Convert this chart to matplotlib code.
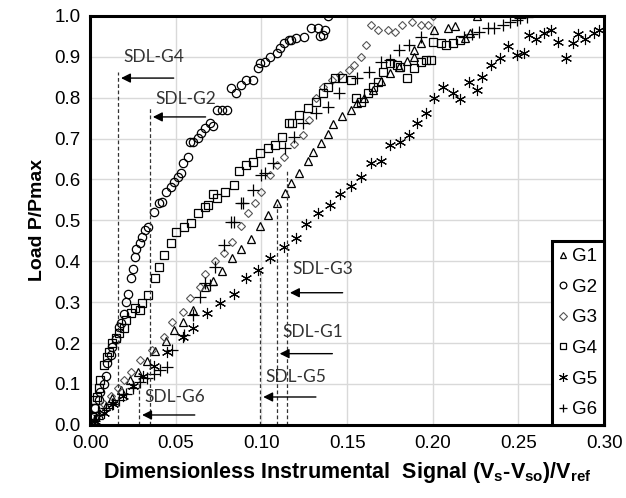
import matplotlib
matplotlib.use("Agg")
import matplotlib.pyplot as plt

plt.rcParams['font.family'] = ['Liberation Sans', 'DejaVu Sans']
plt.rcParams['mathtext.fontset'] = 'custom'
plt.rcParams['mathtext.rm'] = 'Liberation Sans:bold'
plt.rcParams['mathtext.it'] = 'Liberation Sans:bold'

# G1 - triangles
g1_x = [0.002, 0.005, 0.009, 0.013, 0.018, 0.023, 0.028, 0.033, 0.038, 0.044, 0.049, 0.054, 0.06,
        0.067, 0.072, 0.077, 0.083, 0.088, 0.094, 0.099, 0.104, 0.109, 0.114, 0.117, 0.122, 0.127,
        0.13, 0.135, 0.139, 0.142, 0.147, 0.152, 0.156, 0.16, 0.165, 0.17, 0.175, 0.18, 0.185,
        0.189, 0.189, 0.193, 0.201, 0.209, 0.213, 0.219, 0.222, 0.226]
g1_y = [0.01, 0.025, 0.045, 0.065, 0.085, 0.11, 0.13, 0.155, 0.18, 0.205, 0.232, 0.252, 0.281,
        0.337, 0.352, 0.377, 0.408, 0.43, 0.455, 0.487, 0.513, 0.543, 0.567, 0.592, 0.617, 0.645,
        0.666, 0.69, 0.711, 0.736, 0.756, 0.77, 0.787, 0.8, 0.82, 0.84, 0.86, 0.875, 0.89,
        0.9, 0.917, 0.934, 0.966, 0.971, 0.976, 0.946, 0.958, 1.0]

# G2 - circles
g2_x = [0.002, 0.003, 0.005, 0.006, 0.008, 0.009, 0.01, 0.012, 0.013, 0.015, 0.017, 0.018, 0.02,
        0.021, 0.022, 0.024, 0.025, 0.026, 0.027, 0.029, 0.03, 0.032, 0.034, 0.037, 0.04, 0.042,
        0.044, 0.047, 0.049, 0.051, 0.053, 0.054, 0.057, 0.058, 0.06, 0.063, 0.065, 0.067, 0.07,
        0.072, 0.074, 0.077, 0.08, 0.082, 0.085, 0.088, 0.091, 0.095, 0.098, 0.099, 0.102, 0.105,
        0.109, 0.111, 0.113, 0.116, 0.117, 0.12, 0.125, 0.129, 0.133, 0.134, 0.136, 0.137, 0.139]
g2_y = [0.02, 0.04, 0.06, 0.08, 0.1, 0.12, 0.15, 0.17, 0.19, 0.21, 0.24, 0.25, 0.27,
        0.3, 0.32, 0.36, 0.38, 0.41, 0.43, 0.445, 0.46, 0.477, 0.484, 0.521, 0.543, 0.545,
        0.57, 0.582, 0.594, 0.606, 0.616, 0.64, 0.655, 0.692, 0.692, 0.702, 0.714, 0.726, 0.738,
        0.73, 0.77, 0.77, 0.77, 0.824, 0.812, 0.831, 0.843, 0.843, 0.873, 0.885, 0.888, 0.9,
        0.909, 0.922, 0.934, 0.941, 0.941, 0.946, 0.949, 0.971, 0.971, 0.951, 0.954, 0.966, 1.0]

# G3 - diamonds
g3_x = [0.002, 0.005, 0.008, 0.012, 0.016, 0.02, 0.024, 0.029, 0.036, 0.043, 0.048, 0.054, 0.058,
        0.064, 0.067, 0.073, 0.078, 0.083, 0.088, 0.092, 0.096, 0.1, 0.105, 0.109, 0.113, 0.119,
        0.124, 0.128, 0.132, 0.136, 0.141, 0.146, 0.151, 0.154, 0.158, 0.161, 0.164, 0.168, 0.174,
        0.178, 0.182, 0.188, 0.193, 0.197, 0.2]
g3_y = [0.01, 0.03, 0.05, 0.07, 0.09, 0.11, 0.13, 0.159, 0.183, 0.215, 0.252, 0.276, 0.31,
        0.337, 0.37, 0.4, 0.42, 0.447, 0.487, 0.518, 0.543, 0.57, 0.611, 0.636, 0.655, 0.687,
        0.709, 0.746, 0.8, 0.826, 0.843, 0.856, 0.868, 0.88, 0.9, 0.929, 0.978, 0.966, 0.966,
        0.961, 0.978, 0.985, 0.978, 0.978, 1.0]

# G4 - squares
g4_x = [0.001, 0.002, 0.003, 0.004, 0.005, 0.006, 0.008, 0.01, 0.011, 0.013, 0.015, 0.017, 0.02,
        0.021, 0.024, 0.026, 0.029, 0.03, 0.034, 0.038, 0.04, 0.043, 0.047, 0.05, 0.055, 0.059,
        0.063, 0.067, 0.069, 0.072, 0.074, 0.079, 0.084, 0.087, 0.091, 0.095, 0.099, 0.104, 0.108,
        0.112, 0.116, 0.118, 0.122, 0.127, 0.132, 0.136, 0.139, 0.143, 0.147, 0.152, 0.155, 0.158,
        0.162, 0.165, 0.168, 0.171, 0.175, 0.179, 0.181, 0.185, 0.189, 0.193, 0.196, 0.199, 0.2,
        0.205, 0.208, 0.212, 0.216]
g4_y = [0.02, 0.04, 0.06, 0.068, 0.09, 0.11, 0.147, 0.165, 0.178, 0.2, 0.213, 0.225, 0.237,
        0.257, 0.274, 0.286, 0.281, 0.298, 0.318, 0.359, 0.386, 0.416, 0.445, 0.472, 0.484, 0.494,
        0.518, 0.533, 0.538, 0.565, 0.555, 0.57, 0.587, 0.621, 0.636, 0.643, 0.665, 0.677, 0.685,
        0.704, 0.738, 0.738, 0.758, 0.775, 0.79, 0.812, 0.826, 0.848, 0.848, 0.843, 0.8, 0.79,
        0.812, 0.826, 0.838, 0.863, 0.885, 0.88, 0.875, 0.848, 0.873, 0.888, 0.892, 0.892, 0.936,
        0.934, 0.929, 0.934, 0.941]

# G5 - asterisks
g5_x = [0.003, 0.008, 0.0135, 0.019, 0.025, 0.031, 0.037, 0.045, 0.054, 0.06, 0.068, 0.076, 0.084,
        0.091, 0.098, 0.105, 0.113, 0.12, 0.126, 0.133, 0.14, 0.146, 0.152, 0.158, 0.164, 0.17,
        0.175, 0.181, 0.186, 0.191, 0.196, 0.201, 0.206, 0.212, 0.216, 0.221, 0.226, 0.229, 0.234,
        0.239, 0.244, 0.249, 0.253, 0.256, 0.26, 0.265, 0.269, 0.273, 0.278, 0.282, 0.285, 0.289,
        0.294, 0.297]
g5_y = [0.01, 0.03, 0.05, 0.07, 0.095, 0.12, 0.145, 0.178, 0.215, 0.237, 0.274, 0.298, 0.32,
        0.358, 0.379, 0.408, 0.435, 0.457, 0.492, 0.518, 0.538, 0.565, 0.584, 0.606, 0.64, 0.645,
        0.684, 0.692, 0.709, 0.738, 0.763, 0.8, 0.825, 0.812, 0.797, 0.839, 0.819, 0.851, 0.88,
        0.897, 0.927, 0.905, 0.91, 0.954, 0.944, 0.958, 0.966, 0.937, 0.897, 0.934, 0.956, 0.944,
        0.958, 0.966]

# G6 - plus
g6_x = [0.002, 0.005, 0.009, 0.013, 0.017, 0.021, 0.025, 0.029, 0.033, 0.037, 0.041, 0.045, 0.048,
        0.055, 0.06, 0.064, 0.067, 0.07, 0.073, 0.078, 0.082, 0.084, 0.088, 0.089, 0.095, 0.1,
        0.102, 0.107, 0.114, 0.119, 0.124, 0.132, 0.139, 0.145, 0.156, 0.163, 0.17, 0.175, 0.18,
        0.186, 0.193, 0.218, 0.223, 0.227, 0.232, 0.236, 0.241, 0.245, 0.249, 0.251, 0.255]
g6_y = [0.01, 0.025, 0.04, 0.05, 0.06, 0.075, 0.09, 0.105, 0.115, 0.125, 0.133, 0.142, 0.183,
        0.22, 0.269, 0.313, 0.347, 0.342, 0.386, 0.44, 0.496, 0.496, 0.543, 0.543, 0.575, 0.611,
        0.616, 0.64, 0.677, 0.704, 0.738, 0.763, 0.777, 0.812, 0.848, 0.863, 0.888, 0.892, 0.917,
        0.929, 0.949, 0.949, 0.956, 0.961, 0.971, 0.971, 0.978, 0.985, 0.99, 0.995, 0.998]

# SDL markers: x position, top of dashed line, arrow height, label
sdl_names = ['SDL-G4', 'SDL-G2', 'SDL-G3', 'SDL-G1', 'SDL-G5', 'SDL-G6']
sdl_x = [0.0164, 0.035, 0.115, 0.109, 0.0994, 0.0287]
sdl_top = [0.863, 0.775, 0.62, 0.54, 0.38, 0.11]
sdl_arrow_y = [0.848, 0.753, 0.323, 0.174, 0.068, 0.024]
sdl_text_y = [0.90, 0.797, 0.38, 0.227, 0.117, 0.068]

fig = plt.figure(figsize=(6.26, 4.98), dpi=100)
ax = fig.add_axes([0.144, 0.147, 0.821, 0.821])

ms = 6
ax.plot(g1_x, g1_y, '^', mfc='none', mec='black', ms=ms, mew=0.9, ls='none', label='G1')
ax.plot(g2_x, g2_y, 'o', mfc='none', mec='black', ms=ms, mew=0.9, ls='none', label='G2')
ax.plot(g3_x, g3_y, 'D', mfc='none', mec='#555555', ms=4.5, mew=0.8, ls='none', label='G3')
ax.plot(g4_x, g4_y, 's', mfc='none', mec='black', ms=ms, mew=0.9, ls='none', label='G4')
ax.plot(g5_x, g5_y, marker=(6, 2, 0), color='black', ms=8, mew=0.8, ls='none', label='G5')
ax.plot(g6_x, g6_y, '+', color='black', ms=8, mew=0.9, ls='none', label='G6')

for name, x, top, ay, ty in zip(sdl_names, sdl_x, sdl_top, sdl_arrow_y, sdl_text_y):
    ax.plot([x, x], [0, top], ls='--', color='#333333', lw=0.9, dashes=(3, 2))
    ax.annotate('', xy=(x, ay), xytext=(x + 0.034, ay),
                arrowprops=dict(arrowstyle='-|>', color='black', lw=1.0, mutation_scale=14))
    ax.text(x + 0.003, ty, name, fontsize=12.5, family=['Lato', 'DejaVu Sans'],
            color='#333333', va='center', ha='left')

ax.set_xlim(0, 0.30)
ax.set_ylim(0, 1.0)
ax.set_xticks([0, 0.05, 0.10, 0.15, 0.20, 0.25, 0.30])
ax.set_xticklabels(['0.00', '0.05', '0.10', '0.15', '0.20', '0.25', '0.30'])
ax.set_yticks([i / 10 for i in range(11)])
ax.set_yticklabels(['%.1f' % (i / 10) for i in range(11)])
ax.tick_params(labelsize=13.5, length=0, pad=7)
ax.grid(True, color='#d9d9d9', lw=1)
ax.set_axisbelow(True)
for sp in ax.spines.values():
    sp.set_linewidth(2.2)

ax.set_ylabel('Load P/Pmax', fontsize=14, fontweight='bold', labelpad=6)
ax.set_xlabel(r'Dimensionless Instrumental  Signal (V$_\mathrm{s}$-V$_\mathrm{so}$)/V$_\mathrm{ref}$',
              fontsize=15.5, fontweight='bold', labelpad=6)

leg = ax.legend(loc='lower right', fontsize=13.5, handlelength=0.5, handletextpad=0.25,
                borderpad=0.35, labelspacing=0.72, fancybox=False, framealpha=1,
                borderaxespad=0, markerscale=0.8)
leg.get_frame().set_edgecolor('black')
leg.get_frame().set_linewidth(2.2)

fig.savefig('out.png', dpi=100)
